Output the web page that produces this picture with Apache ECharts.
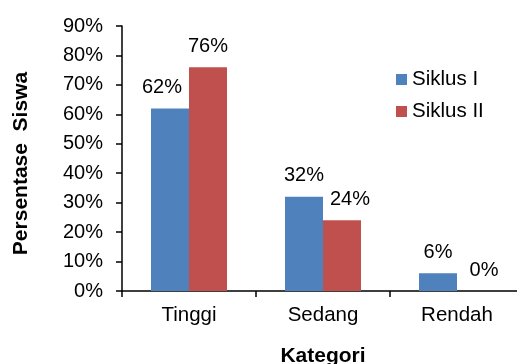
<!DOCTYPE html>
<html>
<head>
<meta charset="utf-8">
<script src="https://cdn.jsdelivr.net/npm/echarts@6/dist/echarts.min.js"></script>
<style>
  html, body { margin: 0; padding: 0; background: #fff; }
  #chart { width: 517px; height: 364px; }
</style>
</head>
<body>
<div id="chart"></div>
<script>
// Kategori hasil belajar per siklus (persen siswa)
const categories = ['Tinggi', 'Sedang', 'Rendah'];
const seriesNames = ['Siklus I', 'Siklus II'];
const siklus1 = [62, 32, 6];
const siklus2 = [76, 24, 0];
const yTicks = [0, 10, 20, 30, 40, 50, 60, 70, 80, 90];

const FONT = '"Liberation Sans", Arial, sans-serif';
const colors = ['#4F81BD', '#C0504D'];

// small horizontal nudges for labels that sit beside their neighbour
const labelShift = { '0-0': [-8, 0], '1-1': [8, 0], '1-2': [8, 0] };

function buildData(values, s) {
  return values.map((v, i) => {
    const shift = labelShift[s + '-' + i];
    return shift ? { value: v, label: { offset: shift } } : { value: v };
  });
}

const chart = echarts.init(document.getElementById('chart'), null, { renderer: 'canvas' });

chart.setOption({
  animation: false,
  backgroundColor: '#ffffff',
  textStyle: { fontFamily: FONT, color: '#000' },
  grid: { left: 122, top: 26, width: 402, height: 265, containLabel: false, outerBoundsMode: 'none' },
  legend: {
    orient: 'vertical',
    left: 396,
    top: 69,
    padding: 0,
    itemWidth: 11,
    itemHeight: 11,
    itemGap: 11,
    icon: 'rect',
    data: seriesNames,
    textStyle: { fontFamily: FONT, fontSize: 20.5, color: '#000' }
  },
  xAxis: {
    type: 'category',
    data: categories,
    name: 'Kategori',
    nameLocation: 'middle',
    nameGap: 55,
    nameTextStyle: { fontFamily: FONT, fontSize: 21, fontWeight: 'bold', color: '#000' },
    axisLine: { lineStyle: { color: '#000', width: 1.5 } },
    axisTick: { show: true, length: 6, lineStyle: { color: '#000', width: 1.5 } },
    axisLabel: { fontFamily: FONT, fontSize: 20.5, color: '#000', margin: 14 }
  },
  yAxis: {
    type: 'value',
    min: yTicks[0],
    max: yTicks[yTicks.length - 1],
    interval: yTicks[1] - yTicks[0],
    name: 'Persentase  Siswa',
    nameLocation: 'middle',
    nameGap: 90,
    nameTextStyle: { fontFamily: FONT, fontSize: 21, fontWeight: 'bold', color: '#000', padding: [0, 10, 0, 0] },
    axisLine: { show: true, lineStyle: { color: '#000', width: 1.5 } },
    axisTick: { show: true, length: 6, lineStyle: { color: '#000', width: 1.5 } },
    splitLine: { show: false },
    axisLabel: { fontFamily: FONT, fontSize: 20, color: '#000', margin: 19, formatter: '{value}%' }
  },
  series: [siklus1, siklus2].map((vals, s) => ({
    name: seriesNames[s],
    type: 'bar',
    data: buildData(vals, s),
    barWidth: 38,
    barGap: '0%',
    itemStyle: { color: colors[s] },
    label: {
      show: true,
      position: 'top',
      distance: 11,
      fontFamily: FONT,
      fontSize: 20,
      color: '#000',
      formatter: '{c}%'
    }
  }))
});
</script>
</body>
</html>
